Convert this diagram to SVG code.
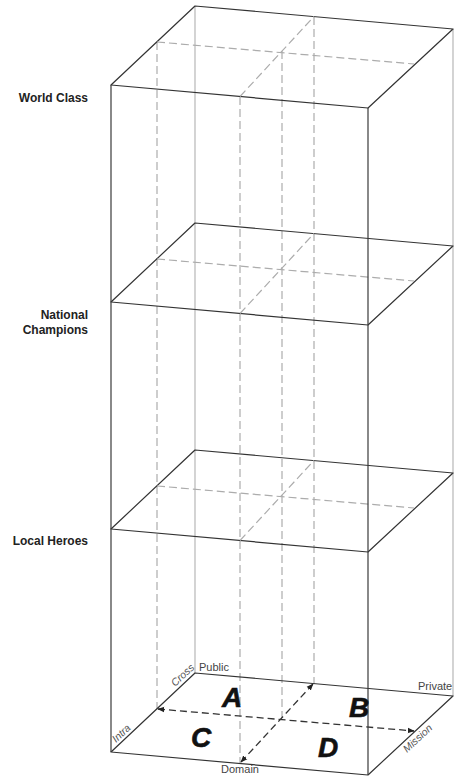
<svg xmlns="http://www.w3.org/2000/svg" width="454" height="778" viewBox="0 0 454 778">
<defs>
<style>
.edge{fill:none;stroke:#333;stroke-width:1.2;stroke-linejoin:round}
.front{stroke:#3a3a3a;stroke-width:1.2}
.back{stroke:#b0b0b0;stroke-width:1.1}
.guide{stroke:#acacac;stroke-width:1.2;stroke-dasharray:8 4;fill:none}
.arrow{stroke:#333;stroke-width:1.3;stroke-dasharray:7 4;fill:none;marker-start:url(#ah);marker-end:url(#ah)}
.lvl{font-family:"Liberation Sans",Arial,sans-serif;font-weight:bold;font-size:12px;fill:#222;text-anchor:end}
.lbl{font-family:"Liberation Sans",Arial,sans-serif;font-size:11px;fill:#444}
.ital{font-family:"Liberation Sans",Arial,sans-serif;font-style:italic;font-size:10.5px;fill:#555}
.big{font-family:"Liberation Sans",Arial,sans-serif;font-style:italic;font-weight:bold;font-size:28px;fill:#111;stroke:#111;stroke-width:0.6}
</style>
<marker id="ah" viewBox="0 0 10 10" refX="9" refY="5" markerWidth="7" markerHeight="7" markerUnits="userSpaceOnUse" orient="auto-start-reverse">
<path d="M0,1 L10,5 L0,9 Z" fill="#222"/>
</marker>
</defs>
<rect width="454" height="778" fill="#fff"/>

<g id="connectors">
<line class="back" x1="195" y1="6" x2="195" y2="673"/>
<line class="back" x1="453" y1="29" x2="453" y2="696"/>
<line class="guide" x1="157" y1="42" x2="157" y2="709"/>
<line class="guide" x1="240" y1="97" x2="240" y2="763"/>
<line class="guide" x1="282" y1="51" x2="282" y2="718"/>
<line class="guide" x1="314" y1="17" x2="314" y2="684"/>
</g>

<g id="plane-top">
<polygon class="edge" points="111,85 368,108 453,29 195,6"/>
<line class="guide" x1="157" y1="42" x2="414" y2="64"/>
<line class="guide" x1="240" y1="96.5" x2="314" y2="16.5"/>
</g>

<g id="plane-national">
<polygon class="edge" points="111,302 368,325 453,246 195,223"/>
<line class="guide" x1="157" y1="259" x2="414" y2="281"/>
<line class="guide" x1="240" y1="313.5" x2="314" y2="233.5"/>
</g>

<g id="plane-local">
<polygon class="edge" points="111,529 368,552 453,473 195,450"/>
<line class="guide" x1="157" y1="486" x2="414" y2="508"/>
<line class="guide" x1="240" y1="540.5" x2="314" y2="460.5"/>
</g>

<g id="plane-bottom">
<polygon class="edge" points="111,752 368,775 453,696 195,673"/>
</g>

<g id="front-verticals">
<line class="front" x1="111" y1="85" x2="111" y2="752"/>
<line class="front" x1="368" y1="108" x2="368" y2="775"/>
</g>

<g id="axes">
<line class="arrow" x1="158" y1="709" x2="414" y2="731"/>
<line class="arrow" x1="241" y1="762" x2="313" y2="684"/>
</g>

<g id="level-labels">
<text class="lvl" x="88" y="102">World Class</text>
<text class="lvl" x="88" y="319">National</text>
<text class="lvl" x="88" y="334">Champions</text>
<text class="lvl" x="88" y="545">Local Heroes</text>
</g>

<g id="axis-labels">
<text class="lbl" x="199" y="671">Public</text>
<text class="lbl" x="418" y="690">Private</text>
<text class="lbl" x="240" y="773" text-anchor="middle">Domain</text>
<text class="ital" transform="translate(175,687) rotate(-43)">Cross</text>
<text class="ital" transform="translate(116,743) rotate(-43)">Intra</text>
<text class="ital" transform="translate(407,753) rotate(-43)">Mission</text>
</g>

<g id="quadrants">
<text class="big" x="222" y="707">A</text>
<text class="big" x="349" y="717">B</text>
<text class="big" x="191" y="747">C</text>
<text class="big" x="318" y="757">D</text>
</g>
</svg>
